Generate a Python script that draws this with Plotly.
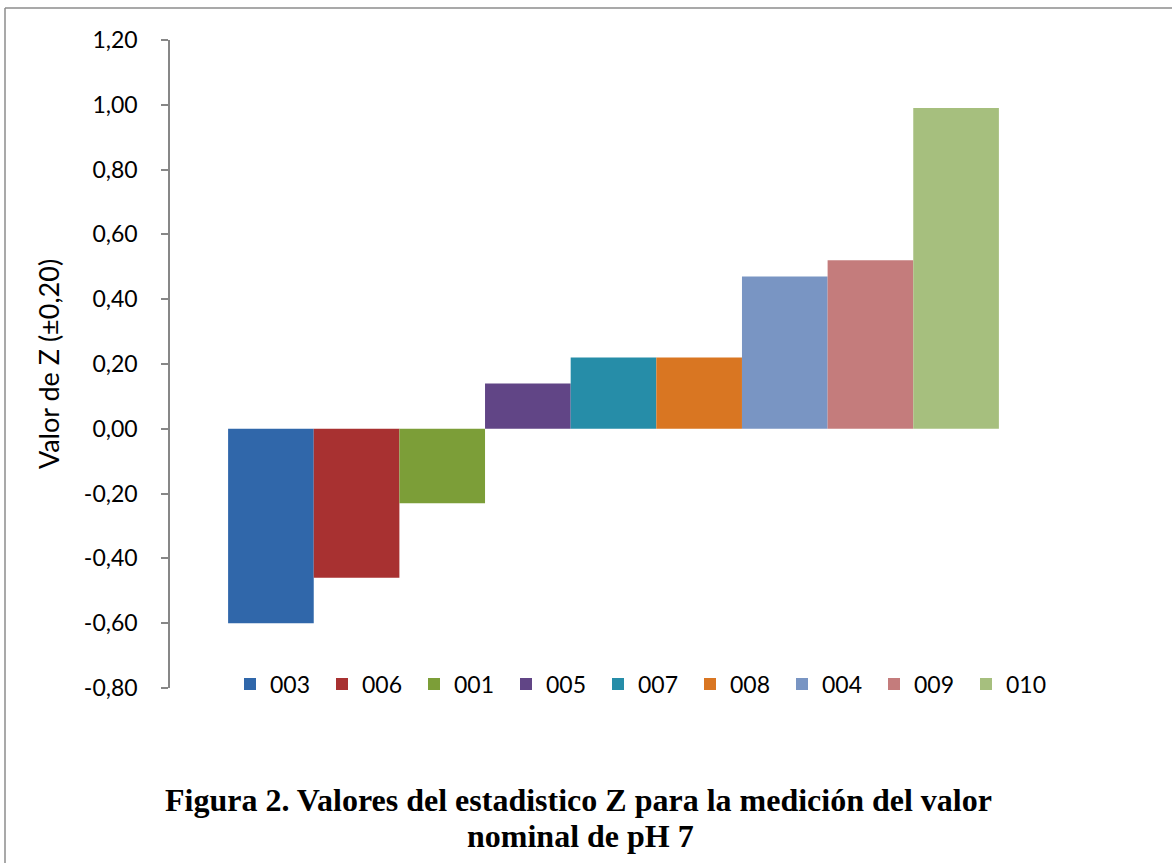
import plotly.graph_objects as go

series = ["003", "006", "001", "005", "007", "008", "004", "009", "010"]
values = [-0.60, -0.46, -0.23, 0.14, 0.22, 0.22, 0.47, 0.52, 0.99]
colors = ["#3067AA", "#A83131", "#7C9E38", "#614586", "#268DA8", "#D97622",
          "#7995C3", "#C47C7C", "#A6BF7E"]
category = ["pH 7"]
y_ticks = [-0.8, -0.6, -0.4, -0.2, 0.0, 0.2, 0.4, 0.6, 0.8, 1.0, 1.2]
y_ticktext = [f"{v:.2f}".replace(".", ",") for v in y_ticks]

fig = go.Figure()
for name, val, col in zip(series, values, colors):
    fig.add_trace(go.Bar(
        x=category, y=[val], name=name,
        marker=dict(color=col, line=dict(width=0)),
    ))

W, H = 1172, 863
L, R, T, B = 170, 115, 40, 175
pw, ph = W - L - R, H - T - B

fig.update_layout(
    width=W, height=H,
    margin=dict(l=L, r=R, t=T, b=B),
    paper_bgcolor="white", plot_bgcolor="white",
    barmode="group", bargap=0.131, bargroupgap=0,
    font=dict(family="Lato, Carlito, sans-serif", size=23, color="#000000"),
    showlegend=True,
    legend=dict(
        orientation="h", x=(230 - L) / pw, y=4 / ph, xanchor="left", yanchor="middle",
        font=dict(size=23), bgcolor="rgba(0,0,0,0)",
        entrywidth=47, entrywidthmode="pixels", itemwidth=30,
        traceorder="normal",
    ),
    xaxis=dict(visible=False, range=[-0.5, 0.5]),
    yaxis=dict(
        range=[-0.8, 1.2], tickvals=y_ticks, ticktext=y_ticktext,
        showgrid=False, zeroline=False,
        showline=True, linecolor="#878787", linewidth=1.5,
        ticks="outside", ticklen=7, tickwidth=1.5, tickcolor="#878787",
        ticklabelstandoff=19,
        tickfont=dict(size=23),
        title=dict(text="Valor de Z (±0,20)", font=dict(size=27), standoff=16),
    ),
    shapes=[
        dict(type="line", xref="paper", yref="paper",
             x0=(5 - L) / pw, x1=(W - L) / pw, y0=(H - B - 8) / ph, y1=(H - B - 8) / ph,
             line=dict(color="#8C8C8C", width=1.5)),
        dict(type="line", xref="paper", yref="paper",
             x0=(5 - L) / pw, x1=(5 - L) / pw, y0=(H - B - 8) / ph, y1=-B / ph,
             line=dict(color="#8C8C8C", width=1.5)),
    ],
    annotations=[
        dict(text="<b>Figura 2. Valores del estadistico Z para la medición del valor</b>",
             xref="paper", yref="paper", x=(578 - L) / pw, y=(H - B - 800) / ph,
             xanchor="center", yanchor="middle", showarrow=False,
             font=dict(family="Liberation Serif, Times New Roman, serif", size=32, color="#000000")),
        dict(text="<b>nominal de pH 7</b>",
             xref="paper", yref="paper", x=(580 - L) / pw, y=(H - B - 836) / ph,
             xanchor="center", yanchor="middle", showarrow=False,
             font=dict(family="Liberation Serif, Times New Roman, serif", size=32, color="#000000")),
    ],
)

fig.write_html("out.html", config={"displayModeBar": False},
               post_script="document.body.style.margin='0';")
